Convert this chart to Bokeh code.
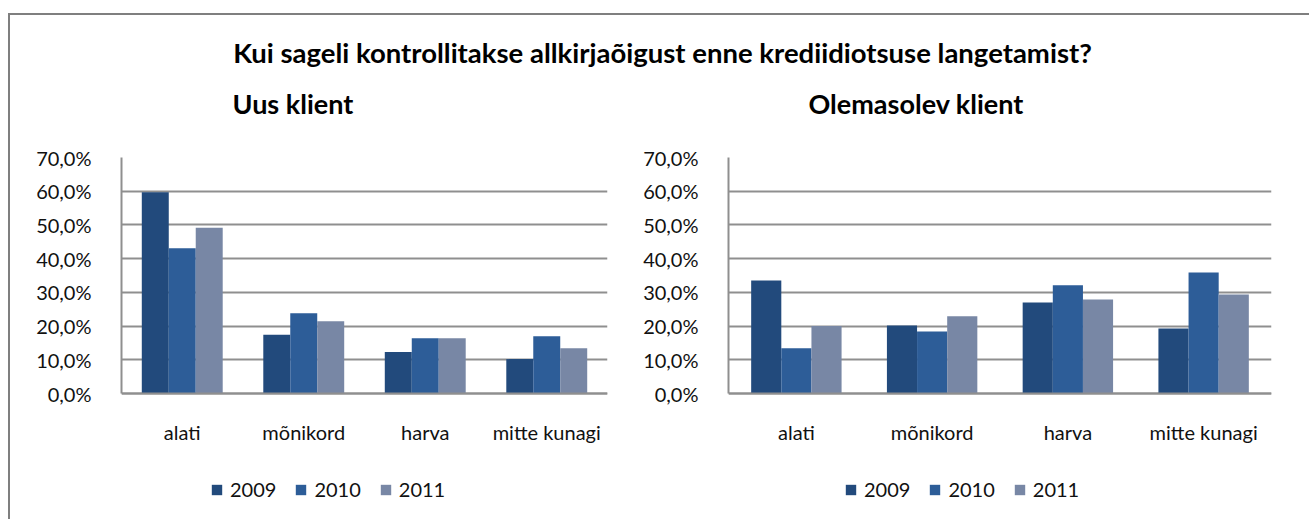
from bokeh.plotting import figure
from bokeh.models import (ColumnDataSource, FactorRange, Range1d, FixedTicker, Label,
                          Legend, LegendItem, Column, Row)
from bokeh.transform import dodge
from bokeh.embed import file_html
from bokeh.resources import INLINE

# ---------------- data ----------------
main_title = "Kui sageli kontrollitakse allkirjaõigust enne krediidiotsuse langetamist?"
panel_titles = ["Uus klient", "Olemasolev klient"]
categories = ["alati", "mõnikord", "harva", "mitte kunagi"]
years = ["2009", "2010", "2011"]

new_2009 = [59.7, 17.4, 12.3, 10.2]
new_2010 = [43.1, 23.8, 16.4, 17.0]
new_2011 = [49.2, 21.4, 16.4, 13.4]

ex_2009 = [33.5, 20.2, 27.0, 19.3]
ex_2010 = [13.4, 18.4, 32.1, 35.9]
ex_2011 = [20.0, 22.9, 27.9, 29.4]

y_ticks = [0, 10, 20, 30, 40, 50, 60, 70]
y_tick_labels = ["0,0%", "10,0%", "20,0%", "30,0%", "40,0%", "50,0%", "60,0%", "70,0%"]

colors = ["#224a7c", "#2d5d98", "#7887a5"]

FONT = "Lato"
GRID = "#8f8f8f"
CHART_H = 389
TOP = 27                      # space above the plotting frame
Y_MAX = 70
# frame reaches the figure bottom; 0 % sits 126 px above it (room for labels + legend)
Y_MIN = -Y_MAX * 126 / (CHART_H - TOP - 126)


def make_chart(width, border_left, border_right, series, legend_x):
    src = ColumnDataSource(dict(cat=categories, y2009=series[0], y2010=series[1], y2011=series[2]))
    p = figure(x_range=FactorRange(*categories), y_range=Range1d(Y_MIN, Y_MAX),
               width=width, height=CHART_H, output_backend="svg", toolbar_location=None,
               min_border_left=border_left, min_border_right=border_right,
               min_border_top=TOP, min_border_bottom=0)
    bw = 0.222
    offsets = [-bw, 0.0, bw]
    items = []
    for yr, off, col in zip(years, offsets, colors):
        r = p.vbar(x=dodge("cat", off, range=p.x_range), top="y" + yr, width=bw,
                   source=src, fill_color=col, line_color=None)
        items.append(LegendItem(label=yr, renderers=[r]))

    p.outline_line_color = None
    p.xgrid.grid_line_color = None
    p.ygrid.grid_line_color = GRID
    p.ygrid.grid_line_width = 2
    p.yaxis.ticker = FixedTicker(ticks=y_ticks)
    p.yaxis.bounds = (0, Y_MAX)
    p.yaxis.major_label_overrides = {t: l for t, l in zip(y_ticks, y_tick_labels)}
    p.xaxis.fixed_location = 0
    for ax in (p.xaxis, p.yaxis):
        ax.axis_line_color = GRID
        ax.axis_line_width = 2
        ax.major_tick_line_color = None
        ax.minor_tick_line_color = None
        ax.major_label_text_font = FONT
        ax.major_label_text_font_size = "20px"
        ax.major_label_text_color = "#111111"
    p.yaxis.major_label_standoff = 24
    p.xaxis.major_label_standoff = 20

    legend = Legend(items=items, orientation="horizontal", location=(legend_x, 18),
                    glyph_width=13, glyph_height=13, label_standoff=7, spacing=18,
                    padding=0, margin=0, border_line_color=None, background_fill_alpha=0,
                    label_text_font=FONT, label_text_font_size="20px",
                    label_text_color="#111111")
    p.add_layout(legend)
    return p


left = make_chart(630, 111, 33, [new_2009, new_2010, new_2011], 89)
right = make_chart(669, 86, 38, [ex_2009, ex_2010, ex_2011], 116)

head = figure(width=1299, height=115, output_backend="svg", toolbar_location=None,
              x_range=Range1d(0, 1), y_range=Range1d(0, 1),
              min_border=0, min_border_left=0, min_border_right=0,
              min_border_top=0, min_border_bottom=0)
head.axis.visible = False
head.grid.visible = False
head.outline_line_color = None
head.add_layout(Label(x=652, y=78, x_units="screen", y_units="screen", text=main_title,
                      text_font=FONT, text_font_style="bold", text_font_size="27.5px",
                      text_align="center", text_baseline="middle", text_color="#000000"))
head.add_layout(Label(x=222, y=27, x_units="screen", y_units="screen", text=panel_titles[0],
                      text_font=FONT, text_font_style="bold", text_font_size="27px",
                      text_align="left", text_baseline="middle", text_color="#000000"))
head.add_layout(Label(x=798, y=27, x_units="screen", y_units="screen", text=panel_titles[1],
                      text_font=FONT, text_font_style="bold", text_font_size="27px",
                      text_align="left", text_baseline="middle", text_color="#000000"))

layout = Column(children=[head, Row(children=[left, right])],
                styles={"margin-top": "13px", "margin-left": "8px",
                        "border-top": "2px solid #7f7f7f", "border-left": "2px solid #7f7f7f"})

open("out.html", "w").write(file_html(layout, INLINE))
